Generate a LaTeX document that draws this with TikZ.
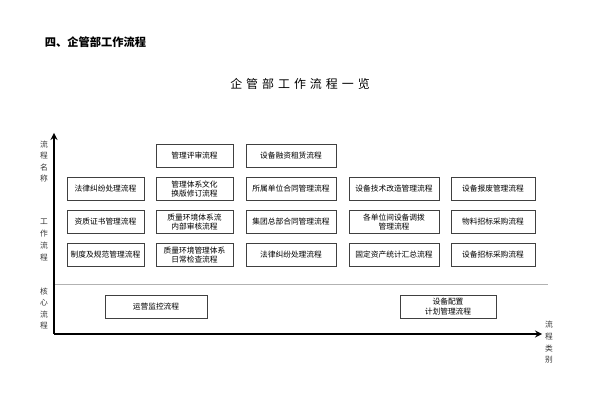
\documentclass[tikz,border=0pt]{standalone}
\usepackage{fontspec}
\setmainfont{Noto Sans CJK SC}
\usetikzlibrary{positioning}
\tikzset{
  flow/.style={draw=black!75, line width=0.6pt, minimum height=0.575cm, align=center, font=\fontsize{5.5}{6.5}\selectfont, inner sep=1pt},
  side/.style={font=\fontsize{5.5}{6.5}\selectfont, text=black!80}
}
\begin{document}
\begin{tikzpicture}[x=0.025cm, y=-0.025cm, >=stealth]
\useasboundingbox (0,0) rectangle (600,400);
\node [anchor=west, font=\bfseries\fontsize{8}{9}\selectfont] (head) at (40,42) {四、企管部工作流程};
\node [font=\fontsize{8.5}{10}\selectfont] (title) at (300,84) {企\,\,管\,\,部\,\,工\,\,作\,\,流\,\,程\,\,一\,\,览};
% axes
\coordinate (origin) at (54,334);
\draw [->, line width=1.2pt] (origin) -- (54,133) coordinate (ytop);
\draw [->, line width=1.2pt] (origin) -- (542,334) coordinate (xend);
\draw [black!30, line width=0.4pt] (55,284) coordinate (sepa) -- (548,284) coordinate (sepb);
% side labels
\foreach \t [count=\i] in {流,程,名,称}
  \node [side] (ya-\i) at (44,133+11.5*\i) {\t};
\foreach \t [count=\i] in {工,作,流,程}
  \node [side] (yb-\i) at (44,210+12*\i) {\t};
\foreach \t [count=\i] in {核,心,流,程}
  \node [side] (yc-\i) at (44,280+11.5*\i) {\t};
\foreach \t [count=\i] in {流,程,类,别}
  \node [side] (xa-\i) at (549,313+11.7*\i) {\t};
% process boxes
\foreach \n/\t in {1/法律纠纷处理流程,2/资质证书管理流程,3/制度及规范管理流程}
  \node [flow, minimum width=1.925cm] (ca-\n) at (105.5,156+33*\n) {\t};
\foreach \n/\t in {0/管理评审流程,1/管理体系文化\\换版修订流程,2/质量环境体系流\\内部审核流程,3/质量环境管理体系\\日常检查流程}
  \node [flow, minimum width=1.925cm] (cb-\n) at (194.5,156+33*\n) {\t};
\foreach \n/\t in {0/设备融资租赁流程,1/所属单位合同管理流程,2/集团总部合同管理流程,3/法律纠纷处理流程}
  \node [flow, minimum width=2.25cm] (cc-\n) at (291,156+33*\n) {\t};
\foreach \n/\t in {1/设备技术改造管理流程,2/各单位间设备调拨\\管理流程,3/固定资产统计汇总流程}
  \node [flow, minimum width=2.25cm] (cd-\n) at (394,156+33*\n) {\t};
\foreach \n/\t in {1/设备报废管理流程,2/物料招标采购流程,3/设备招标采购流程}
  \node [flow, minimum width=2.1cm] (ce-\n) at (493,156+33*\n) {\t};
\node [flow, minimum width=2.55cm] (core-1) at (156,306.5) {运营监控流程};
\node [flow, minimum width=2.4cm] (core-2) at (448,306.5) {设备配置\\计划管理流程};
\end{tikzpicture}
\end{document}
